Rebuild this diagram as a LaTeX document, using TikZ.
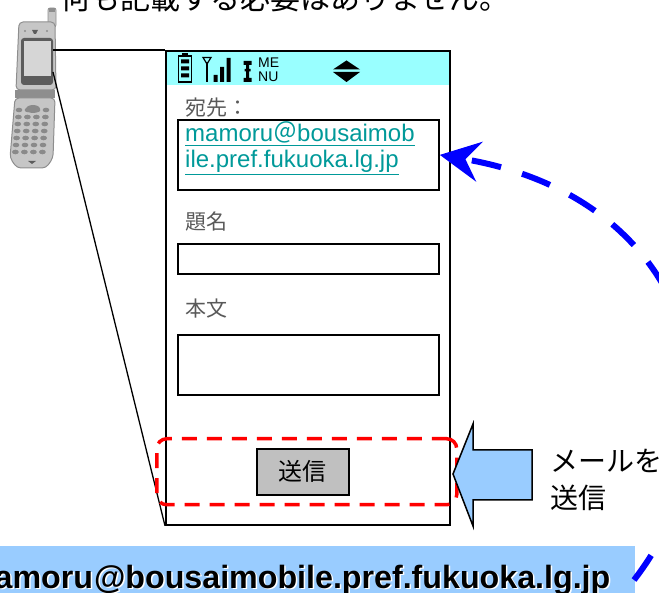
\documentclass[tikz,border=0pt]{standalone}
\usepackage{fontspec}
\setmainfont{Liberation Sans}
\newfontfamily\jp{Noto Sans CJK JP}
\usetikzlibrary{arrows.meta}
\definecolor{hdrcyan}{HTML}{99FFFF}
\definecolor{barblue}{HTML}{99CCFF}
\definecolor{linkteal}{HTML}{009999}
\definecolor{labelgrey}{HTML}{595959}
\definecolor{btngrey}{HTML}{C0C0C0}
\definecolor{arcblue}{HTML}{0000FF}
\definecolor{phbody}{HTML}{C6C6C6}
\definecolor{phedge}{HTML}{8E8E8E}
\definecolor{phdark}{HTML}{5C5C5C}
\definecolor{phscreen}{HTML}{D6D6D6}
\definecolor{phkey}{HTML}{8A8A8A}
\newcommand\setsz[1]{\fontsize{#1}{#1}\selectfont}

\begin{document}
\begin{tikzpicture}[x=1pt,y=-1pt,
  frame/.style={draw=black, line width=1.8pt, inner sep=0pt, anchor=north west},
  field/.style={draw=black, line width=1.8pt, inner sep=0pt, anchor=north west, minimum width=261pt},
  fieldlabel/.style={anchor=west, inner sep=0pt, text=labelgrey, font=\jp\setsz{21}},
  link/.style={anchor=base west, inner sep=0pt, text=linkteal, font=\setsz{24}},
  leader/.style={draw=black, line width=1.3pt},
  icon/.style={fill=black},
  bartxt/.style={anchor=base east, inner sep=0pt, font=\bfseries\setsz{32.2}}
]
\useasboundingbox (0,0) rectangle (659,593);
\clip (0,0) rectangle (659,593);

% note line at the top edge
\node[anchor=base west, inner sep=0pt, font=\jp\setsz{30}] (note) at (60,10) {何も記載する必要はありません。};

% ---- flip phone ----
\fill[phbody, draw=phedge, line width=0.8pt, rounded corners=2pt] (48,8) rectangle (56,27);
\fill[phedge] (49,8) rectangle (55,12);
\fill[phbody, draw=phedge, line width=1pt, rounded corners=4pt]
  (19,22) -- (55,22) -- (56,90) -- (16,90) -- cycle;
\fill[phdark] (32,30) -- (38,30) -- (36,34) -- (34,34) -- cycle;
\fill[phedge] (25,31) circle (1.2pt) (47,31) circle (1.2pt);
\fill[phdark, rounded corners=3pt] (21,38) rectangle (53,85);
\fill[phscreen] (24,41) rectangle (51,76);
\fill[phedge] (15,90) rectangle (55,98);
\fill[phbody, draw=phedge, line width=1pt, rounded corners=4pt]
  (15,98) -- (55,98) -- (53,158) -- (46,168) -- (17,168) -- (10,158) -- cycle;
\fill[phkey] (33,109) ellipse (7pt and 4pt);
\foreach \r in {0,...,6}{
  \foreach \c in {0,...,3}{
    \fill[phkey] ({19+\c*9-\r*0.6},{110+\r*7}) ellipse (3.4pt and 2.3pt);
  }
}
\fill[phdark] (28,161) -- (36,161) -- (32,164) -- cycle;
\coordinate (phonetop) at (53,50);
\coordinate (phonebot) at (53,72);

% ---- handset screen ----
\fill[hdrcyan] (165,50) rectangle (449,85);
\node[frame, minimum width=284pt, minimum height=474pt] (screen) at (165,50) {};
\draw[leader] (phonetop) -- (screen.north west);
\draw[leader] (phonebot) -- (screen.south west);

% status icons
\draw[line width=1.2pt] (178.6,56) rectangle (191.4,82);
\fill[icon] (182,53) rectangle (188,56.5);
\fill[icon] (181,59.5) rectangle (189,63.5) (181,66.5) rectangle (189,70.5) (181,73.5) rectangle (189,77.5);
\draw[line width=1.2pt] (203,57.5) -- (211,57.5) -- (207,64) -- cycle;
\draw[line width=2pt] (207,62) -- (207,82);
\fill[icon] (213.5,75) rectangle (217.5,82) (220,67) rectangle (224,82) (226.5,58) rectangle (230.5,82);
\fill[icon] (243.5,61) rectangle (251.5,65) (246,65) rectangle (249,79) (243.5,78) rectangle (251.5,82)
  (244.5,69) rectangle (250.5,71.5);
\node[anchor=base west, inner sep=0pt, font=\setsz{14}] (menu1) at (258,68) {ME};
\node[anchor=base west, inner sep=0pt, font=\setsz{14}] (menu2) at (258,82) {NU};
\fill[icon] (346.5,60.5) -- (360,69.5) -- (333,69.5) -- cycle;
\fill[icon] (333,72) -- (360,72) -- (346.5,82) -- cycle;

% address field
\node[fieldlabel] (tolabel) at (185,108) {宛先：};
\node[field, minimum height=70pt] (addr) at (177,119) {};
\node[link] (addr1) at (185,142) {\underline{mamoru{\jp ＠}bousaimob}};
\node[link] (addr2) at (185,168) {\underline{ile.pref.fukuoka.lg.jp}};

% subject field
\node[fieldlabel] (sublabel) at (185,222) {題名};
\node[field, minimum height=30pt] (subject) at (177,243) {};

% body field
\node[fieldlabel] (bodylabel) at (185,309) {本文};
\node[field, minimum height=60pt] (body) at (177,334) {};

% send button and highlight
\node[draw=red, line width=3.5pt, dash pattern=on 15pt off 10pt, rounded corners=10pt,
  inner sep=0pt, anchor=north west, minimum width=300pt, minimum height=66pt] (sendzone) at (155,437) {};
\node[draw=black, fill=btngrey, line width=1.6pt, inner sep=0pt, anchor=north west,
  minimum width=92pt, minimum height=46pt, font=\jp\setsz{24}] (send) at (256,448) {送信};

% pointer arrow and caption
\draw[fill=barblue, line width=1.5pt, line join=miter]
  (453,474) -- (473,424) -- (473,450) -- (532,450) -- (532,500) -- (473,500) -- (473,526) -- cycle;
\node[anchor=west, inner sep=0pt, align=left, font=\jp\fontsize{28}{37}\selectfont] (sendlabel) at (550,480)
  {メールを\\送信};

% address bar
\node[fill=barblue, inner sep=0pt, anchor=north west, minimum width=635pt, minimum height=48pt] (bar) at (0,546) {};
\node[bartxt, text=white] at (612,589.5) {mamoru\kern1pt@bousaimobile.pref.fukuoka.lg.jp};
\node[bartxt] (bartext) at (610.5,588) {mamoru\kern1pt@bousaimobile.pref.fukuoka.lg.jp};

% return arc from the bar to the address field
\coordinate (arcstart) at (634,580);
\draw[arcblue, line width=6pt, dash pattern=on 30pt off 22pt,
  -{Stealth[length=40pt,width=40pt,inset=14pt]}]
  (arcstart) .. controls (750,430) and (705,200) .. (addr.east);
\end{tikzpicture}
\end{document}
